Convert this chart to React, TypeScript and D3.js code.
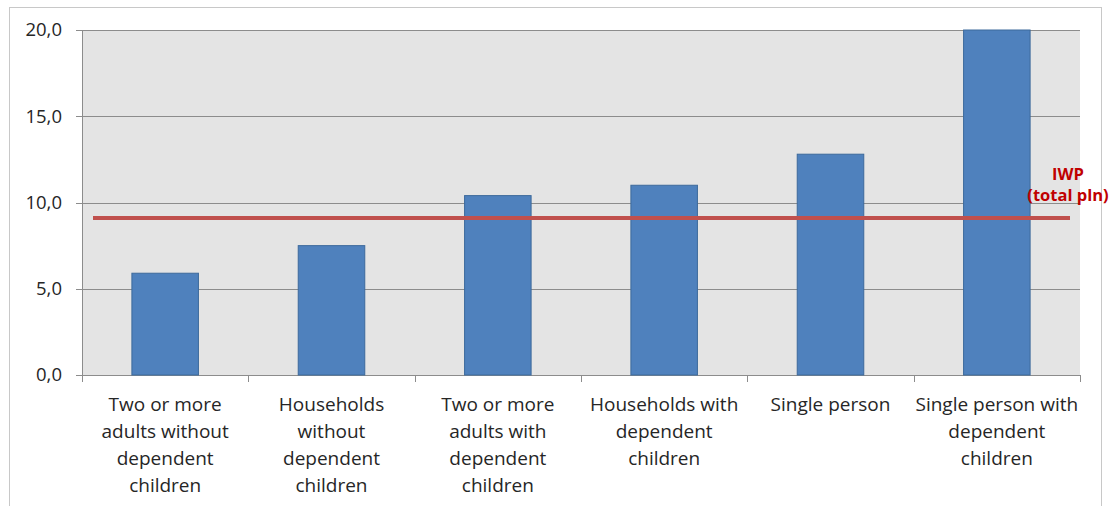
import React from "react";
import * as d3 from "d3";

const categories: string[][] = [
  ["Two or more", "adults without", "dependent", "children"],
  ["Households", "without", "dependent", "children"],
  ["Two or more", "adults with", "dependent", "children"],
  ["Households with", "dependent", "children"],
  ["Single person"],
  ["Single person with", "dependent", "children"],
];
const values: number[] = [5.9, 7.5, 10.4, 11.0, 12.8, 20.0];
const yTicks: number[] = [0, 5, 10, 15, 20];
const iwpValue = 9.1;
const iwpLabel = ["IWP", "(total pln)"];

const W = 1109;
const H = 506;
const plot = { left: 82, right: 1080, top: 30, bottom: 375 };

export default function App() {
  const x = d3
    .scaleBand<number>()
    .domain(d3.range(categories.length))
    .range([plot.left, plot.right])
    .paddingInner(0.6)
    .paddingOuter(0.3);
  const band = d3
    .scaleBand<number>()
    .domain(d3.range(categories.length))
    .range([plot.left, plot.right]);
  const y = d3.scaleLinear().domain([0, 20]).range([plot.bottom, plot.top]);
  const font = "'Open Sans', 'Noto Sans', sans-serif";
  const fmt = (v: number) => v.toFixed(1).replace(".", ",");

  return (
    <svg
      width={W}
      height={H}
      style={{ position: "absolute", left: 0, top: 0, background: "#fff" }}
    >
      <rect x={9.5} y={7.5} width={1092} height={510} fill="#fff" stroke="#c8c8c8" />
      <rect
        x={plot.left}
        y={plot.top}
        width={plot.right - plot.left}
        height={plot.bottom - plot.top}
        fill="#e4e4e4"
      />
      {yTicks.map((t) => (
        <g key={t}>
          <line
            x1={plot.left - 6}
            x2={plot.right}
            y1={Math.round(y(t)) + 0.5}
            y2={Math.round(y(t)) + 0.5}
            stroke="#8c8c8c"
            strokeWidth={1}
          />
          <text
            x={62}
            y={y(t)}
            dy="0.35em"
            textAnchor="end"
            fontFamily={font}
            fontSize={18.5}
            fill="#262626"
          >
            {fmt(t)}
          </text>
        </g>
      ))}
      <line x1={plot.left + 0.5} x2={plot.left + 0.5} y1={plot.top} y2={plot.bottom} stroke="#8c8c8c" />
      {values.map((v, i) => (
        <rect
          key={i}
          x={x(i)}
          y={y(v)}
          width={x.bandwidth()}
          height={plot.bottom - y(v)}
          fill="#4f81bd"
          stroke="#3d6a9c"
          strokeWidth={1}
        />
      ))}
      {d3.range(categories.length + 1).map((i) => {
        const px = Math.round(i < categories.length ? (band(i) as number) : plot.right) + 0.5;
        return (
          <line key={i} x1={px} x2={px} y1={plot.bottom} y2={plot.bottom + 7} stroke="#8c8c8c" />
        );
      })}
      {categories.map((lines, i) => (
        <text
          key={i}
          x={(band(i) as number) + band.bandwidth() / 2}
          y={411}
          textAnchor="middle"
          fontFamily={font}
          fontSize={19}
          fill="#262626"
        >
          {lines.map((l, j) => (
            <tspan key={j} x={(band(i) as number) + band.bandwidth() / 2} dy={j === 0 ? 0 : 27}>
              {l}
            </tspan>
          ))}
        </text>
      ))}
      <line
        x1={93}
        x2={1070}
        y1={y(iwpValue)}
        y2={y(iwpValue)}
        stroke="#c0504d"
        strokeWidth={4}
      />
      <text
        x={1068}
        y={180}
        textAnchor="middle"
        fontFamily={font}
        fontSize={16.5}
        fontWeight="bold"
        fill="#c00000"
      >
        {iwpLabel.map((l, j) => (
          <tspan key={j} x={1068} dy={j === 0 ? 0 : 21}>
            {l}
          </tspan>
        ))}
      </text>
    </svg>
  );
}
